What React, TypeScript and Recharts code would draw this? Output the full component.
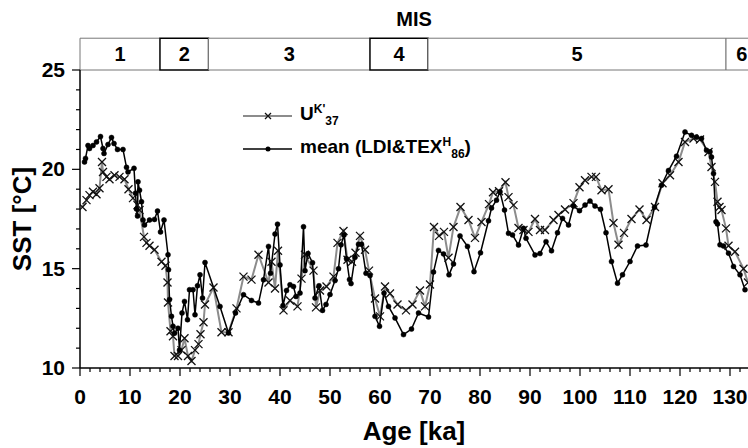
import { LineChart, Line, XAxis, YAxis, ReferenceArea, Legend } from 'recharts'

// U K'37 record (age in ka, SST in °C)
const ukAge = [
  0.5, 1.3, 1.9, 2.6, 3.3, 3.9, 4.4, 4.6, 5.3, 5.9, 6.9, 7.9, 8.9, 9.7, 10.6, 11.5, 11.9, 12.8, 13.3, 13.9,
  14.9, 16.3, 17.1, 17.5, 17.6, 18.1, 18.6, 18.9, 19.6, 20.3, 20.9, 21.6, 22.3, 23.0, 23.7, 24.1, 24.7, 25.0,
  26.7, 28.3, 29.7, 31.3, 32.7, 34.3, 35.7, 37.7, 38.3, 39.0, 39.6, 40.7, 42.0, 43.5, 44.3, 45.0, 46.7, 47.2,
  48.0, 49.3, 50.7, 51.5, 52.7, 53.5, 54.4, 55.1, 56.0, 57.0, 57.8, 59.0, 60.0, 61.0, 62.0, 63.5, 65.2, 66.5,
  68.0, 69.0, 70.0, 70.8, 71.8, 72.8, 73.7, 74.7, 76.1, 77.7, 79.0, 80.3, 81.8, 82.6, 83.8, 85.1, 85.7, 86.7,
  87.7, 88.7, 89.7, 91.0, 92.0, 93.0, 94.7, 95.7, 97.0, 98.7, 99.9, 101.0, 102.3, 103.2, 104.3, 105.7, 106.7,
  107.7, 108.8, 110.3, 111.9, 113.3, 115.0, 116.5, 118.0, 119.7, 121.0, 122.7, 124.0, 125.7, 126.3, 127.0,
  127.5, 127.9, 128.3, 129.2, 129.7, 131.0, 132.7, 133.6,
]
const ukSst = [
  18.1, 18.45, 18.7, 18.87, 18.75, 19.05, 20.37, 19.87, 19.62, 19.5, 19.7, 19.62, 19.5, 19.0, 18.55, 18.2, 17.95, 16.6, 16.3, 16.15,
  15.95, 15.35, 15.15, 14.3, 13.3, 11.85, 11.6, 10.6, 10.6, 10.9, 11.5, 10.6, 10.35, 10.9, 11.2, 11.7, 12.3, 13.2,
  14.05, 11.8, 11.8, 13.0, 14.6, 14.45, 15.7, 14.3, 15.35, 14.0, 15.9, 12.9, 13.4, 13.1, 14.5, 15.7, 14.9, 13.05,
  13.9, 14.1, 14.6, 16.3, 16.9, 15.45, 15.35, 15.8, 16.65, 15.95, 14.9, 13.5, 12.6, 14.1, 13.75, 13.2, 12.9, 13.2,
  13.9, 13.1, 14.2, 17.1, 16.65, 16.85, 15.55, 17.1, 18.1, 17.45, 16.55, 17.35, 18.25, 18.85, 18.9, 19.35, 18.6, 18.2,
  17.05, 16.95, 16.85, 17.5, 16.95, 16.95, 17.45, 17.7, 17.98, 18.3, 19.1, 19.45, 19.62, 19.62, 18.95, 19.0, 17.3,
  16.2, 16.8, 17.5, 17.98, 17.45, 18.1, 19.3, 19.7, 20.37, 21.38, 21.55, 21.5, 20.87, 20.12, 19.37,
  18.37, 18.1, 17.95, 17.03, 16.15, 15.85, 15.0, 14.3,
]

// mean of LDI and TEX H86
const meanAge = [
  0.9, 1.1, 1.6, 1.9, 2.6, 3.3, 4.1, 4.6, 4.8, 5.6, 6.3, 6.8, 7.5, 8.6, 9.3, 9.6, 10.8, 11.1, 11.3, 11.5,
  11.6, 11.9, 12.3, 12.6, 12.9, 13.9, 14.9, 15.5, 16.1, 16.8, 17.6, 17.7, 17.9, 18.3, 18.6, 18.9, 19.6, 19.9,
  20.4, 20.9, 21.5, 21.9, 22.6, 23.0, 23.5, 24.0, 24.5, 25.0, 28.0, 29.7, 31.1, 32.7, 34.3, 35.7, 36.7, 37.7,
  38.1, 39.0, 39.5, 40.0, 40.6, 41.3, 42.0, 42.7, 43.2, 44.0, 44.7, 45.0, 45.6, 46.5, 47.0, 47.8, 48.5, 49.2,
  50.0, 51.0, 51.7, 52.2, 52.8, 53.3, 53.9, 54.2, 55.0, 55.7, 56.3, 57.2, 58.0, 59.0, 59.9, 60.8, 61.7, 63.0,
  64.7, 66.3, 67.7, 69.7, 70.7, 71.7, 72.7, 73.8, 74.7, 76.0, 77.5, 78.8, 80.1, 81.7, 82.3, 83.3, 84.0, 84.9,
  85.7, 86.5, 87.7, 88.7, 89.2, 91.0, 92.0, 93.2, 94.3, 95.5, 96.5, 97.7, 98.7, 99.9, 101.0, 102.0, 103.0,
  104.1, 105.2, 106.3, 107.5, 108.5, 110.0, 111.5, 113.2, 114.9, 116.3, 117.7, 119.3, 121.0, 122.3, 123.3,
  124.3, 125.3, 126.0, 126.3, 126.7, 127.2, 127.5, 128.0, 128.7, 129.7, 130.7, 132.0, 133.0,
]
const meanSst = [
  20.37, 20.55, 21.2, 21.05, 21.2, 21.38, 21.65, 21.05, 20.8, 21.25, 21.6, 21.3, 21.0, 21.0, 20.1, 19.87, 20.05, 18.8, 18.0, 17.65,
  19.37, 18.95, 18.37, 17.45, 17.2, 17.45, 17.48, 17.9, 16.85, 17.45, 15.7, 14.95, 13.45, 12.6, 12.1, 11.75, 12.0, 10.9,
  12.77, 13.35, 12.43, 13.94, 13.94, 12.68, 14.14, 14.69, 13.52, 15.31, 13.1, 11.76, 12.77, 13.69, 13.4, 13.27, 14.44, 16.12,
  14.77, 16.74, 17.24, 15.19, 13.14, 13.9, 14.19, 14.1, 13.6, 13.77, 17.11, 14.9, 15.76, 15.3, 13.52, 14.14, 12.9, 13.2,
  13.7, 14.4, 15.0, 16.2, 16.7, 15.5, 14.45, 14.25, 15.57, 16.23, 16.23, 14.77, 14.65, 12.6, 12.1, 13.77, 13.1, 12.52,
  11.68, 11.96, 12.77, 12.57, 14.83, 15.92, 15.74, 14.69, 15.24, 16.65, 16.12, 14.85, 15.8, 17.41, 18.05, 18.45, 18.87, 17.95,
  16.78, 16.7, 16.19, 17.03, 16.53, 15.69, 15.76, 16.36, 15.9, 16.81, 17.53, 17.2, 18.15, 17.92, 18.2, 18.4, 18.15,
  17.99, 16.81, 15.36, 14.27, 14.69, 15.36, 16.14, 16.19, 18.09, 19.2, 19.94, 20.66, 21.88, 21.71, 21.63,
  21.55, 20.96, 20.88, 20.62, 19.79, 17.36, 17.25, 16.2, 16.14, 15.78, 15.11, 14.69, 13.94,
]

// marine isotope stages shown in the top bar
const misNames = ['1', '2', '3', '4', '5', '6']
const misStart = [0, 16, 25.7, 58, 69.6, 129.2]
const misEnd = [16, 25.7, 58, 69.6, 129.2, 135.5]
const misDark = [false, true, false, true, false, false]

const xMajor = [0, 10, 20, 30, 40, 50, 60, 70, 80, 90, 100, 110, 120, 130]
const yMajor = [10, 15, 20, 25]
const xTicks = Array.from({ length: 67 }, (_, i) => i * 2)
const yTicks = Array.from({ length: 16 }, (_, i) => 10 + i)

const ukData = ukAge.map((age, i) => ({ age, sst: ukSst[i] }))
const meanData = meanAge.map((age, i) => ({ age, sst: meanSst[i] }))

const NARROW = "'Liberation Sans Narrow', 'Arial Narrow', 'Liberation Sans', sans-serif"
const WIDE = "'Liberation Sans', Arial, sans-serif"

const XTick = (props: any) => {
  const { x, y, payload } = props
  const major = xMajor.includes(payload.value)
  return (
    <g>
      <line x1={x} x2={x} y1={y} y2={y + (major ? 8 : 4)} stroke="#000" strokeWidth={1.2} />
      {major && (
        <text x={x} y={y + 36} textAnchor="middle" fontFamily={NARROW} fontWeight="bold" fontSize={21} fill="#000">
          {payload.value}
        </text>
      )}
    </g>
  )
}

const YTick = (props: any) => {
  const { x, y, payload } = props
  const major = yMajor.includes(payload.value)
  return (
    <g>
      <line x1={x} x2={x - (major ? 8 : 4)} y1={y} y2={y} stroke="#000" strokeWidth={1.2} />
      {major && (
        <text x={x - 15} y={y + 7} textAnchor="end" fontFamily={NARROW} fontWeight="bold" fontSize={21} fill="#000">
          {payload.value}
        </text>
      )}
    </g>
  )
}

const Cross = (props: any) => {
  const { cx, cy, index } = props
  if (cx == null || cy == null) return <g key={index} />
  const s = 4
  return (
    <path
      key={index}
      d={`M${cx - s},${cy - s}L${cx + s},${cy + s}M${cx + s},${cy - s}L${cx - s},${cy + s}`}
      stroke="#111"
      strokeWidth={1.3}
      fill="none"
    />
  )
}

const renderLegend = () => (
  <div style={{ fontFamily: WIDE, fontWeight: 'bold', fontSize: 19, color: '#000' }}>
    <div style={{ display: 'flex', alignItems: 'center', height: 33 }}>
      <svg width={60} height={20}>
        <line x1={3} x2={52} y1={10} y2={10} stroke="#8c8c8c" strokeWidth={2} />
        <path d="M25,7L31,13M31,7L25,13" stroke="#111" strokeWidth={1.3} />
      </svg>
      <span>
        U<sup style={{ fontSize: 12 }}>K'</sup>
        <sub style={{ fontSize: 12 }}>37</sub>
      </span>
    </div>
    <div style={{ display: 'flex', alignItems: 'center', height: 33 }}>
      <svg width={60} height={20}>
        <line x1={3} x2={52} y1={10} y2={10} stroke="#000" strokeWidth={1.5} />
        <circle cx={28} cy={10} r={2.5} fill="#000" />
      </svg>
      <span>
        mean (LDI&amp;TEX<sup style={{ fontSize: 12 }}>H</sup>
        <sub style={{ fontSize: 12 }}>86</sub>)
      </span>
    </div>
  </div>
)

export default function App() {
  return (
    <div style={{ position: 'absolute', left: 0, top: 0, width: 748, height: 448, background: '#fff' }}>
      <div
        style={{
          position: 'absolute',
          left: 0,
          width: 828,
          top: 8,
          textAlign: 'center',
          fontFamily: NARROW,
          fontWeight: 'bold',
          fontSize: 20,
        }}
      >
        MIS
      </div>
      <LineChart width={748} height={448} margin={{ top: 70, right: 0, left: 0, bottom: 0 }}>
        <XAxis
          type="number"
          dataKey="age"
          domain={[0, 133.6]}
          allowDataOverflow
          ticks={xTicks}
          interval={0}
          tick={<XTick />}
          tickLine={false}
          tickSize={0}
          tickMargin={0}
          height={80}
          axisLine={{ stroke: '#000', strokeWidth: 1.5 }}
          label={{
            value: 'Age [ka]',
            position: 'insideBottom',
            offset: 8,
            style: { fontFamily: NARROW, fontWeight: 'bold', fontSize: 26, fill: '#000' },
          }}
        />
        <YAxis
          type="number"
          domain={[10, 25]}
          allowDataOverflow
          ticks={yTicks}
          interval={0}
          tick={<YTick />}
          tickLine={false}
          tickSize={0}
          tickMargin={0}
          width={80}
          axisLine={{ stroke: '#000', strokeWidth: 1.5 }}
          label={{
            value: 'SST  [°C]',
            angle: -90,
            position: 'center',
            dx: -18,
            style: { fontFamily: NARROW, fontWeight: 'bold', fontSize: 26, fill: '#000', textAnchor: 'middle' },
          }}
        />
        {misNames.map((name, i) => (
          <ReferenceArea
            key={name}
            x1={misStart[i]}
            x2={misEnd[i]}
            y1={25}
            y2={26.6}
            ifOverflow="visible"
            fill="#fff"
            fillOpacity={1}
            stroke={misDark[i] ? '#000' : '#777'}
            strokeWidth={misDark[i] ? 1.4 : 1}
            label={{
              value: name,
              position: 'center',
              style: { fontFamily: NARROW, fontWeight: 'bold', fontSize: 20, fill: '#000' },
            }}
          />
        ))}
        <Line
          data={ukData}
          dataKey="sst"
          type="linear"
          stroke="#8c8c8c"
          strokeWidth={2}
          dot={<Cross />}
          activeDot={false}
          isAnimationActive={false}
        />
        <Line
          data={meanData}
          dataKey="sst"
          type="linear"
          stroke="#000"
          strokeWidth={1.5}
          dot={{ r: 2.5, fill: '#000', stroke: '#000', strokeWidth: 0.5 }}
          activeDot={false}
          isAnimationActive={false}
        />
        <Legend
          layout="vertical"
          align="center"
          verticalAlign="middle"
          wrapperStyle={{ left: 240, top: 99, width: 320 }}
          content={renderLegend}
        />
      </LineChart>
    </div>
  )
}
